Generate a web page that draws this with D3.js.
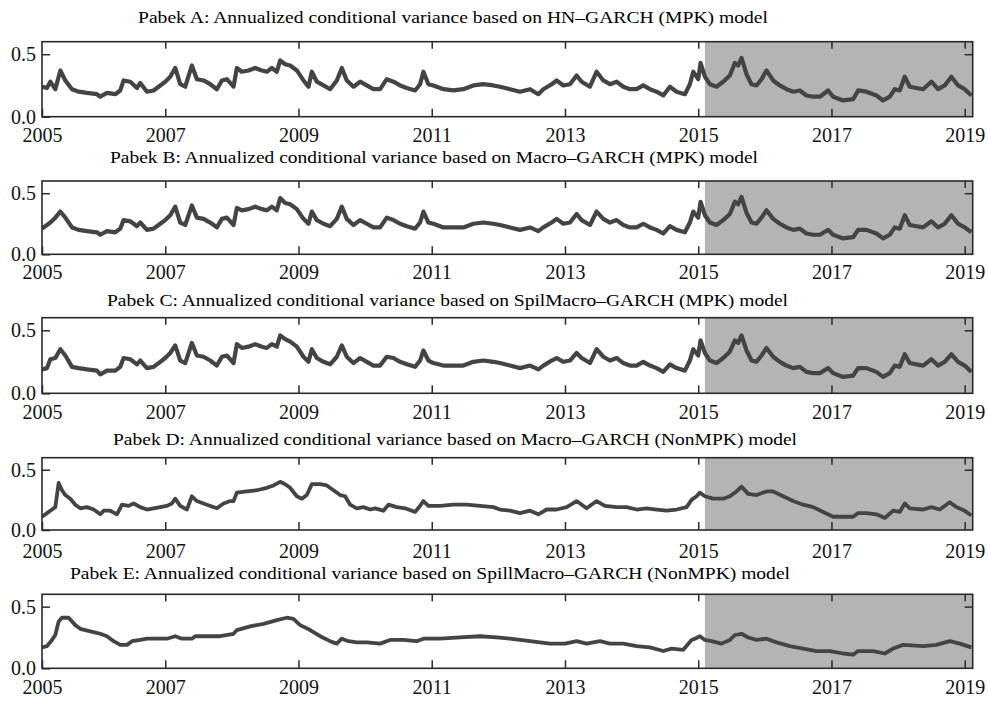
<!DOCTYPE html>
<html><head><meta charset="utf-8">
<script src="https://cdn.jsdelivr.net/npm/d3@7"></script>
<style>body{margin:0;background:#fff} svg{display:block}</style>
</head><body><svg id="chart" width="988" height="702"></svg>
<script>
// ---------------- DATA ----------------
const panelTitles = [
  "Pabek A:  Annualized conditional variance based on HN\u2013GARCH (MPK) model",
  "Pabek B:  Annualized conditional variance based on Macro\u2013GARCH (MPK) model",
  "Pabek C:  Annualized conditional variance based on SpilMacro\u2013GARCH (MPK) model",
  "Pabek D:  Annualized conditional variance based on Macro\u2013GARCH (NonMPK) model",
  "Pabek E:  Annualized conditional variance based on SpillMacro\u2013GARCH (NonMPK) model"
];
const xTickYears = [2005, 2007, 2009, 2011, 2013, 2015, 2017, 2019];
const xTickLabels = ["2005", "2007", "2009", "2011", "2013", "2015", "2017", "2019"];
const yTickValues = [0.0, 0.5];
const sampleStart = 2005.15;
const sampleEnd = 2019.12;
const shadeStart = 2015.1;

const datesMPK = [
  2005.15,2005.225,2005.275,2005.35,2005.425,2005.5,2005.6,2005.7,2005.825,2005.975,
  2006.025,2006.125,2006.25,2006.325,2006.375,2006.475,2006.575,2006.625,2006.725,2006.825,2006.925,
  2007.0,2007.075,2007.15,2007.225,2007.3,2007.4,2007.475,2007.575,2007.675,2007.775,2007.85,2007.925,
  2008.025,2008.075,2008.15,2008.25,2008.35,2008.45,2008.525,2008.6,2008.675,2008.725,2008.8,2008.875,2008.975,
  2009.075,2009.15,2009.2,2009.275,2009.375,2009.475,2009.575,2009.65,2009.725,2009.825,2009.925,
  2010.025,2010.125,2010.225,2010.325,2010.425,2010.525,2010.625,2010.75,2010.825,2010.875,2010.95,
  2011.025,2011.175,2011.325,2011.475,2011.625,2011.775,2011.925,
  2012.025,2012.175,2012.325,2012.475,2012.6,2012.675,2012.8,2012.875,2012.975,
  2013.075,2013.175,2013.25,2013.375,2013.475,2013.575,2013.675,2013.775,2013.875,2013.975,
  2014.075,2014.175,2014.275,2014.375,2014.475,2014.575,2014.675,2014.8,2014.875,2014.925,
  2015.0,2015.035,2015.1,2015.175,2015.275,2015.375,2015.475,2015.55,2015.6,2015.65,2015.725,2015.8,2015.875,2015.95,
  2016.025,2016.125,2016.225,2016.325,2016.425,2016.525,2016.625,2016.725,2016.825,2016.95,
  2017.025,2017.175,2017.325,2017.4,2017.525,2017.675,2017.775,2017.875,2017.95,
  2018.025,2018.1,2018.175,2018.275,2018.375,2018.5,2018.6,2018.7,2018.8,2018.9,
  2019.0,2019.1
];
const valuesA = [
  0.24,0.23,0.28,0.22,0.37,0.29,0.22,0.20,0.19,0.18,
  0.16,0.19,0.18,0.21,0.29,0.28,0.23,0.27,0.20,0.21,0.25,
  0.28,0.32,0.39,0.26,0.24,0.41,0.30,0.29,0.26,0.22,0.29,0.30,
  0.24,0.39,0.36,0.37,0.39,0.37,0.36,0.39,0.36,0.45,0.42,0.41,0.37,
  0.29,0.24,0.36,0.28,0.25,0.22,0.29,0.39,0.29,0.24,0.28,
  0.25,0.22,0.22,0.30,0.28,0.25,0.23,0.21,0.26,0.36,0.26,
  0.25,0.22,0.21,0.22,0.25,0.26,0.25,
  0.24,0.22,0.20,0.22,0.18,0.22,0.26,0.29,0.25,
  0.26,0.33,0.28,0.24,0.36,0.29,0.26,0.28,0.24,0.22,
  0.22,0.25,0.22,0.20,0.17,0.24,0.20,0.18,0.26,0.36,
  0.30,0.43,0.32,0.26,0.24,0.28,0.33,0.43,0.41,0.47,0.34,0.26,0.25,0.30,
  0.37,0.29,0.25,0.22,0.20,0.21,0.17,0.16,0.16,0.21,
  0.16,0.13,0.14,0.21,0.20,0.17,0.13,0.16,0.22,
  0.21,0.32,0.24,0.23,0.22,0.28,0.22,0.25,0.32,0.25,
  0.22,0.17
];
const valuesB = [
  0.21,0.24,0.26,0.30,0.35,0.30,0.22,0.20,0.19,0.18,
  0.16,0.19,0.18,0.21,0.28,0.27,0.23,0.26,0.20,0.21,0.25,
  0.28,0.32,0.39,0.26,0.24,0.40,0.30,0.29,0.26,0.22,0.29,0.30,
  0.24,0.38,0.36,0.37,0.39,0.37,0.36,0.39,0.36,0.46,0.42,0.41,0.37,
  0.29,0.25,0.35,0.28,0.25,0.23,0.29,0.39,0.29,0.24,0.28,
  0.25,0.22,0.22,0.30,0.28,0.25,0.23,0.21,0.26,0.35,0.26,
  0.25,0.22,0.22,0.22,0.25,0.26,0.25,
  0.24,0.22,0.20,0.22,0.19,0.22,0.26,0.29,0.25,
  0.26,0.33,0.28,0.24,0.35,0.29,0.26,0.28,0.24,0.22,
  0.22,0.25,0.22,0.20,0.17,0.23,0.20,0.18,0.26,0.35,
  0.30,0.43,0.32,0.26,0.24,0.28,0.33,0.43,0.41,0.47,0.34,0.26,0.25,0.30,
  0.36,0.29,0.25,0.22,0.20,0.21,0.17,0.16,0.16,0.20,
  0.16,0.13,0.14,0.20,0.20,0.17,0.13,0.16,0.22,
  0.21,0.32,0.24,0.23,0.22,0.27,0.22,0.25,0.32,0.25,
  0.22,0.18
];
const valuesC = [
  0.19,0.20,0.27,0.28,0.35,0.30,0.21,0.20,0.19,0.18,
  0.15,0.18,0.18,0.21,0.28,0.27,0.23,0.26,0.20,0.21,0.25,
  0.28,0.32,0.38,0.26,0.24,0.40,0.30,0.29,0.26,0.22,0.29,0.30,
  0.24,0.39,0.36,0.37,0.39,0.37,0.36,0.39,0.37,0.46,0.43,0.41,0.37,
  0.29,0.25,0.35,0.28,0.25,0.23,0.29,0.38,0.29,0.24,0.28,
  0.25,0.22,0.22,0.29,0.28,0.25,0.23,0.21,0.26,0.34,0.26,
  0.24,0.22,0.22,0.22,0.25,0.26,0.25,
  0.24,0.22,0.20,0.22,0.19,0.22,0.26,0.28,0.25,
  0.26,0.32,0.28,0.24,0.35,0.29,0.26,0.28,0.24,0.22,
  0.22,0.25,0.22,0.20,0.17,0.23,0.20,0.18,0.26,0.35,
  0.30,0.42,0.32,0.26,0.24,0.28,0.33,0.42,0.40,0.46,0.34,0.26,0.25,0.30,
  0.36,0.29,0.25,0.22,0.20,0.21,0.17,0.16,0.16,0.20,
  0.16,0.13,0.14,0.20,0.20,0.17,0.13,0.16,0.22,
  0.21,0.31,0.24,0.23,0.22,0.27,0.22,0.25,0.31,0.25,
  0.22,0.17
];

const datesD = [
  2005.15,2005.225,2005.3,2005.35,2005.4,2005.45,2005.5,2005.575,2005.65,2005.725,2005.825,2005.925,
  2006.025,2006.075,2006.175,2006.275,2006.35,2006.45,2006.525,2006.625,2006.725,2006.825,2006.925,
  2007.025,2007.1,2007.15,2007.225,2007.325,2007.4,2007.475,2007.625,2007.775,2007.875,2007.975,
  2008.025,2008.075,2008.225,2008.375,2008.525,2008.625,2008.725,2008.8,2008.875,2008.975,
  2009.05,2009.125,2009.2,2009.325,2009.425,2009.525,2009.625,2009.7,2009.775,2009.875,2009.975,
  2010.075,2010.15,2010.275,2010.35,2010.475,2010.6,2010.75,2010.825,2010.875,2010.95,
  2011.125,2011.325,2011.525,2011.725,2011.925,
  2012.025,2012.175,2012.325,2012.475,2012.6,2012.725,2012.875,
  2013.025,2013.175,2013.325,2013.475,2013.6,2013.775,2013.925,
  2014.075,2014.225,2014.375,2014.525,2014.675,2014.825,2014.9,2014.975,
  2015.025,2015.1,2015.225,2015.375,2015.475,2015.575,2015.65,2015.75,2015.875,
  2016.025,2016.125,2016.275,2016.425,2016.575,2016.725,2016.875,
  2017.025,2017.175,2017.325,2017.4,2017.525,2017.675,2017.8,2017.925,
  2018.025,2018.1,2018.175,2018.375,2018.5,2018.625,2018.775,2018.875,
  2019.0,2019.1
];
const valuesD = [
  0.11,0.14,0.17,0.19,0.39,0.33,0.29,0.26,0.21,0.18,0.19,0.17,
  0.13,0.16,0.16,0.13,0.21,0.20,0.22,0.19,0.17,0.18,0.19,
  0.20,0.22,0.26,0.20,0.17,0.28,0.24,0.21,0.18,0.22,0.24,
  0.24,0.31,0.32,0.33,0.35,0.37,0.40,0.38,0.35,0.28,
  0.26,0.29,0.38,0.38,0.37,0.33,0.29,0.28,0.21,0.18,0.19,
  0.17,0.18,0.16,0.21,0.19,0.18,0.15,0.20,0.24,0.20,
  0.20,0.21,0.21,0.20,0.19,
  0.17,0.16,0.14,0.16,0.13,0.17,0.17,
  0.19,0.24,0.18,0.24,0.20,0.19,0.19,
  0.17,0.18,0.17,0.16,0.17,0.19,0.25,0.28,
  0.31,0.28,0.26,0.26,0.28,0.32,0.36,0.30,0.29,
  0.32,0.32,0.28,0.24,0.21,0.19,0.15,
  0.11,0.11,0.11,0.14,0.14,0.13,0.10,0.16,
  0.15,0.22,0.18,0.17,0.19,0.17,0.23,0.19,
  0.16,0.12
];

const datesE = [
  2005.15,2005.225,2005.3,2005.35,2005.4,2005.45,2005.55,2005.65,2005.725,2005.875,
  2006.025,2006.125,2006.225,2006.325,2006.425,2006.5,2006.625,2006.725,2006.875,
  2007.025,2007.15,2007.25,2007.4,2007.45,2007.625,2007.825,
  2008.025,2008.075,2008.275,2008.475,2008.675,2008.825,2008.925,
  2009.025,2009.175,2009.325,2009.475,2009.575,2009.65,2009.75,2009.875,
  2010.025,2010.225,2010.375,2010.575,2010.775,2010.875,
  2011.125,2011.425,2011.725,2011.975,
  2012.175,2012.475,2012.775,
  2013.0,2013.175,2013.325,2013.525,2013.675,2013.875,
  2014.075,2014.275,2014.475,2014.6,2014.775,2014.9,2014.95,
  2015.025,2015.1,2015.2,2015.35,2015.475,2015.55,2015.65,2015.75,2015.875,
  2016.025,2016.175,2016.375,2016.575,2016.775,2016.975,
  2017.175,2017.325,2017.4,2017.625,2017.8,2017.925,
  2018.075,2018.375,2018.575,2018.775,2018.925,
  2019.1
];
const valuesE = [
  0.17,0.18,0.23,0.27,0.38,0.41,0.41,0.35,0.32,0.30,
  0.28,0.26,0.22,0.19,0.19,0.22,0.23,0.24,0.24,
  0.24,0.26,0.24,0.24,0.26,0.26,0.26,
  0.28,0.31,0.34,0.36,0.39,0.41,0.40,
  0.35,0.31,0.26,0.22,0.20,0.24,0.22,0.21,
  0.21,0.20,0.23,0.23,0.22,0.24,
  0.24,0.25,0.26,0.25,
  0.24,0.22,0.20,
  0.20,0.22,0.20,0.22,0.20,0.20,
  0.18,0.17,0.14,0.16,0.15,0.23,0.24,
  0.26,0.23,0.22,0.20,0.23,0.27,0.28,0.25,0.23,
  0.24,0.21,0.18,0.16,0.14,0.14,
  0.12,0.11,0.14,0.14,0.12,0.16,
  0.19,0.18,0.19,0.22,0.20,
  0.17
];

// ---------------- LAYOUT ----------------
const W = 988, H = 702;
const plotLeft = 42, plotRight = 972.7;
const layout = [
  {top: 41.7,  bottom: 116.7, titleY: 19,  titleX0: 138, titleX1: 768, labelGap: 11},
  {top: 181,   bottom: 254.3, titleY: 159, titleX0: 110, titleX1: 758, labelGap: 11},
  {top: 317.7, bottom: 393.3, titleY: 302, titleX0: 107, titleX1: 788, labelGap: 12},
  {top: 457.7, bottom: 530,   titleY: 441, titleX0: 113, titleX1: 797, labelGap: 14},
  {top: 594.3, bottom: 668.3, titleY: 575, titleX0: 70,  titleX1: 790, labelGap: 12}
];
const seriesList = [
  {dates: datesMPK, values: valuesA},
  {dates: datesMPK, values: valuesB},
  {dates: datesMPK, values: valuesC},
  {dates: datesD, values: valuesD},
  {dates: datesE, values: valuesE}
];

const FONT = "'Liberation Serif','DejaVu Serif',serif";
const lineColor = "#444444";
const shadeColor = "#b4b4b4";
const frameColor = "#2a2a2a";

const svg = d3.select("#chart");
svg.append("rect").attr("width", W).attr("height", H).attr("fill", "#fff");

const x = d3.scaleLinear().domain([sampleStart, sampleEnd]).range([plotLeft, plotRight]);
const tickPos = xTickYears.map(yr => Math.max(yr, sampleStart));
const labelFor = d3.scaleOrdinal().domain(tickPos).range(xTickLabels);

layout.forEach((L, i) => {
  const g = svg.append("g");
  const y = d3.scaleLinear().domain([0, 0.6]).range([L.bottom, L.top]);
  const s = seriesList[i];
  const pts = s.dates.map((d, k) => [d, s.values[k]]);

  // title
  g.append("text")
    .attr("x", L.titleX0).attr("y", L.titleY)
    .attr("dominant-baseline", "middle")
    .attr("font-family", FONT).attr("font-size", 17).attr("fill", "#000")
    .attr("textLength", L.titleX1 - L.titleX0)
    .attr("lengthAdjust", "spacingAndGlyphs")
    .text(panelTitles[i]);

  // shaded period
  g.append("rect")
    .attr("x", x(shadeStart)).attr("y", L.top)
    .attr("width", x(sampleEnd) - x(shadeStart))
    .attr("height", L.bottom - L.top)
    .attr("fill", shadeColor);

  // series line
  const clipId = "clip" + i;
  g.append("clipPath").attr("id", clipId).append("rect")
    .attr("x", plotLeft).attr("y", L.top).attr("width", plotRight - plotLeft).attr("height", L.bottom - L.top);
  g.append("path")
    .datum(pts)
    .attr("clip-path", `url(#${clipId})`)
    .attr("fill", "none")
    .attr("stroke", lineColor)
    .attr("stroke-width", i < 3 ? 4.2 : 3.8)
    .attr("stroke-linejoin", "round")
    .attr("d", d3.line().x(d => x(d[0])).y(d => y(d[1])));

  // bottom axis (ticks inside, labels below)
  const bAx = g.append("g").attr("transform", `translate(0,${L.bottom})`)
    .call(d3.axisBottom(x).tickValues(tickPos).tickSizeInner(-8).tickSizeOuter(0)
      .tickPadding(L.labelGap).tickFormat(d => labelFor(d)));
  // top axis
  const tAx = g.append("g").attr("transform", `translate(0,${L.top})`)
    .call(d3.axisTop(x).tickValues(tickPos.slice(1)).tickSizeInner(-7).tickSizeOuter(0).tickFormat(""));
  // left axis
  const lAx = g.append("g").attr("transform", `translate(${plotLeft},0)`)
    .call(d3.axisLeft(y).tickValues(yTickValues).tickSizeInner(-8).tickSizeOuter(0)
      .tickPadding(6).tickFormat(d3.format(".1f")));
  // right axis
  const rAx = g.append("g").attr("transform", `translate(${plotRight},0)`)
    .call(d3.axisRight(y).tickValues([yTickValues[1]]).tickSizeInner(-8).tickSizeOuter(0).tickFormat(""));

  [bAx, tAx, lAx, rAx].forEach(a => {
    a.select(".domain").remove();
    a.selectAll(".tick line").attr("stroke", frameColor).attr("stroke-width", 1.5);
    a.selectAll(".tick text").attr("font-family", FONT).attr("font-size", 20).attr("fill", "#111");
  });

  // frame
  g.append("rect")
    .attr("x", plotLeft).attr("y", L.top)
    .attr("width", plotRight - plotLeft).attr("height", L.bottom - L.top)
    .attr("fill", "none").attr("stroke", frameColor).attr("stroke-width", 1.6);
});
</script>
</body></html>
